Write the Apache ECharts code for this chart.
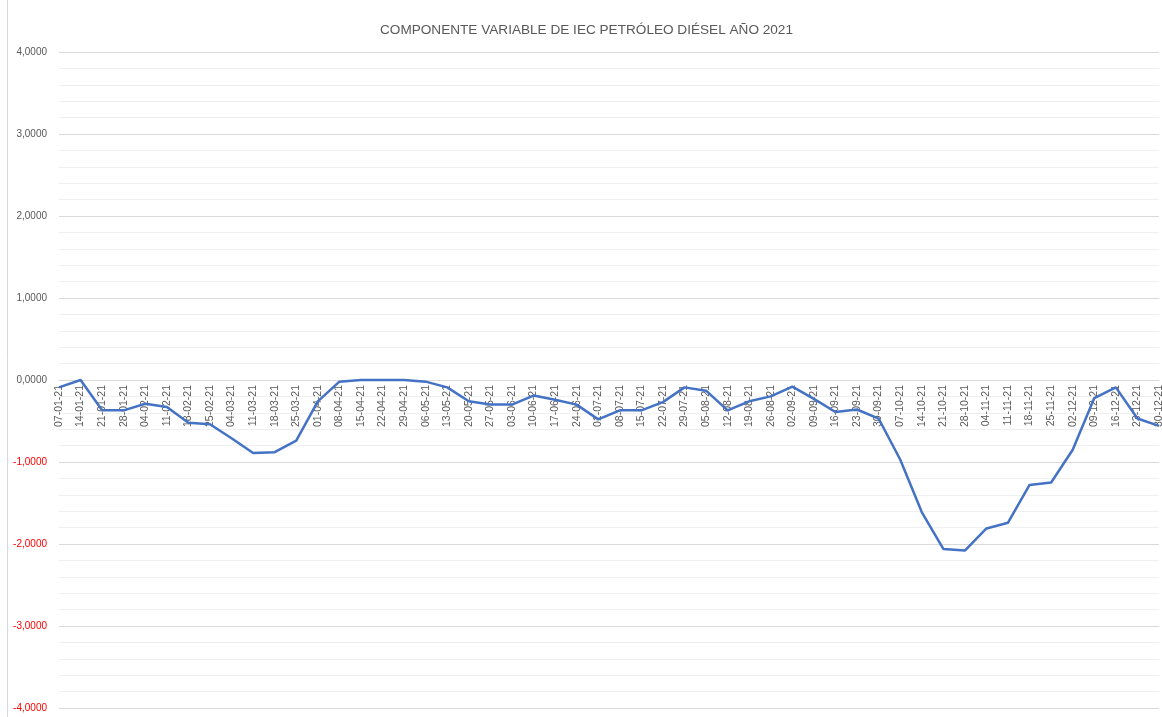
<!DOCTYPE html>
<html>
<head>
<meta charset="utf-8">
<script src="https://cdn.jsdelivr.net/npm/echarts@6/dist/echarts.min.js"></script>
<style>
  html, body { margin: 0; padding: 0; background: #fff; }
  #main { width: 1162px; height: 717px; }
</style>
</head>
<body>
<div id="main"></div>
<script>
// fechas semanales 2021
var fechas = ['07-01-21', '14-01-21', '21-01-21', '28-01-21', '04-02-21', '11-02-21', '18-02-21', '25-02-21',
  '04-03-21', '11-03-21', '18-03-21', '25-03-21', '01-04-21', '08-04-21', '15-04-21', '22-04-21', '29-04-21',
  '06-05-21', '13-05-21', '20-05-21', '27-05-21', '03-06-21', '10-06-21', '17-06-21', '24-06-21', '01-07-21',
  '08-07-21', '15-07-21', '22-07-21', '29-07-21', '05-08-21', '12-08-21', '19-08-21', '26-08-21', '02-09-21',
  '09-09-21', '16-09-21', '23-09-21', '30-09-21', '07-10-21', '14-10-21', '21-10-21', '28-10-21', '04-11-21',
  '11-11-21', '18-11-21', '25-11-21', '02-12-21', '09-12-21', '16-12-21', '23-12-21', '30-12-21']

// componente variable
var componente = [-0.09, 0.0, -0.37, -0.37, -0.29, -0.33, -0.52, -0.54,
  -0.71, -0.89, -0.88, -0.74, -0.26, -0.02, 0.0, 0.0, 0.0,
  -0.02, -0.09, -0.26, -0.30, -0.30, -0.19, -0.24, -0.30, -0.48,
  -0.37, -0.37, -0.27, -0.09, -0.13, -0.37, -0.26, -0.20, -0.08,
  -0.23, -0.39, -0.36, -0.47, -0.97, -1.61, -2.06, -2.08, -1.81,
  -1.74, -1.28, -1.25, -0.85, -0.22, -0.09, -0.47, -0.56]

var titulo = 'COMPONENTE VARIABLE DE IEC PETRÓLEO DIÉSEL AÑO 2021'

var fuente = '"Liberation Sans", Arial, sans-serif'

var gridTop = 52
var gridBottom = 9
// el eje x cruza en 0 (mitad del rango -4..4)
var ejeOffset = -(717 - gridTop - gridBottom) / 2

var option = {
  animation: false,
  title: {
    text: titulo,
    left: 375,
    top: 18,
    textStyle: { color: '#595959', fontSize: 13.6, fontWeight: 'normal', fontFamily: fuente }
  },
  graphic: [{
    type: 'line',
    shape: { x1: 7.5, y1: 0, x2: 7.5, y2: 717 },
    style: { stroke: '#d9d9d9', lineWidth: 1 }
  }],
  grid: { left: 59, right: 3, top: gridTop, bottom: gridBottom, outerBoundsMode: 'none', containLabel: false },
  xAxis: {
    type: 'category',
    data: fechas,
    boundaryGap: false,
    position: 'bottom',
    offset: ejeOffset,
    axisLine: { onZero: false, lineStyle: { color: '#d9d9d9' } },
    axisTick: { show: false },
    axisLabel: {
      interval: 0,
      rotate: 90,
      margin: 5,
      color: '#595959',
      fontSize: 10.5,
      fontFamily: fuente
    }
  },
  yAxis: {
    type: 'value',
    min: -4,
    max: 4,
    interval: 1,
    axisLine: { show: false },
    axisTick: { show: false },
    axisLabel: {
      margin: 12,
      fontSize: 10,
      fontFamily: fuente,
      formatter: function (v) { return v.toFixed(4).replace('.', ',') },
      color: function (v) { return Number(v) < 0 ? '#ff0000' : '#595959' }
    },
    splitLine: { lineStyle: { color: '#d9d9d9', width: 1 } },
    minorTick: { show: false, splitNumber: 5 },
    minorSplitLine: { show: true, lineStyle: { color: '#f0f0f0', width: 1 } }
  },
  series: [{
    type: 'line',
    data: componente,
    zlevel: 1,
    showSymbol: false,
    symbol: 'none',
    lineStyle: { color: '#4472c4', width: 2.5 }
  }]
}

var myChart = echarts.init(document.getElementById('main'))
myChart.setOption(option)
</script>
</body>
</html>
